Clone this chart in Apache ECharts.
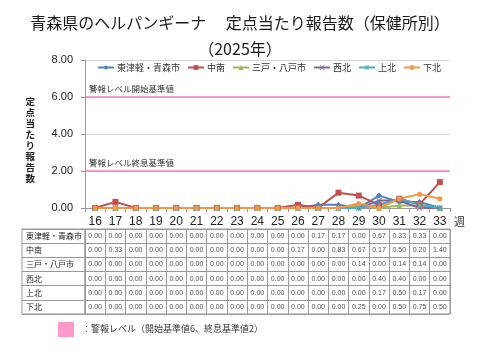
<!DOCTYPE html>
<html><head><meta charset="utf-8">
<script src="https://cdn.jsdelivr.net/npm/echarts@6/dist/echarts.min.js"></script>
<style>html,body{margin:0;padding:0;background:#fff}#c{width:480px;height:360px}</style>
</head><body><div id="c"></div>
<script>
const weeks = ['16','17','18','19','20','21','22','23','24','25','26','27','28','29','30','31','32','33'];
const regions = ['東津軽・青森市','中南','三戸・八戸市','西北','上北','下北'];
const aomori    = [0,0,0,0,0,0,0,0,0,0,0,0.17,0.17,0,0.67,0.33,0.33,0];
const chunan    = [0,0.33,0,0,0,0,0,0,0,0,0.17,0,0.83,0.67,0.17,0.50,0.20,1.40];
const sannohe   = [0,0,0,0,0,0,0,0,0,0,0,0,0,0.14,0,0.14,0.14,0];
const seihoku   = [0,0,0,0,0,0,0,0,0,0,0,0,0,0,0.40,0.40,0,0];
const kamikita  = [0,0,0,0,0,0,0,0,0,0,0,0,0,0,0.17,0.50,0.17,0];
const shimokita = [0,0,0,0,0,0,0,0,0,0,0,0,0,0.25,0,0.50,0.75,0.50];
const yTicks = [0,2,4,6,8];
const alarmStart = 6, alarmEnd = 2;
const seriesValues = [aomori, chunan, sannohe, seihoku, kamikita, shimokita];
const colors = ['#4F81BD','#C0504D','#9BBB59','#8064A2','#4BACC6','#F79646'];
const symbols = ['diamond','rect','triangle',
  'path://M0,1L1,0L5,4L9,0L10,1L6,5L10,9L9,10L5,6L1,10L0,9L4,5Z',
  'path://M0,1L1,0L4.3,3.3L4.3,0L5.7,0L5.7,3.3L9,0L10,1L6,5L10,9L9,10L5.7,6.7L5.7,10L4.3,10L4.3,6.7L1,10L0,9L4,5Z',
  'circle'];
const FONT = "'Liberation Sans','Noto Sans CJK JP',sans-serif";
const CJK = "'Noto Sans CJK JP',sans-serif";

const chart = echarts.init(document.getElementById('c'), null, {renderer:'canvas'});

const lineSeries = seriesValues.map((vals, i) => ({
  name: regions[i], type: 'line', xAxisIndex: 0, yAxisIndex: 0,
  data: vals, symbol: symbols[i], symbolSize: symbols[i]==='circle'?5:6,
  showAllSymbol: true,
  lineStyle: {width: 2, color: colors[i]},
  itemStyle: {color: colors[i]},
  animation: false,
  markLine: i === 0 ? {
    silent: true, symbol: ['none','none'],
    lineStyle: {color: '#F47AC0', width: 1.5, type: 'solid'},
    label: {position: 'insideStartTop', fontSize: 8.5, color: '#333', fontFamily: CJK, distance: [4,4]},
    data: [
      {yAxis: alarmStart, label: {formatter: '警報レベル開始基準値'}},
      {yAxis: alarmEnd, label: {formatter: '警報レベル終息基準値'}}
    ]
  } : undefined
}));

const tableData = [];
seriesValues.forEach((vals, r) => vals.forEach((v, c) => tableData.push([c, r, v])));

chart.setOption({
  animation: false,
  textStyle: {fontFamily: FONT},
  title: {
    text: '青森県のヘルパンギーナ　 定点当たり報告数（保健所別）\n（2025年）',
    left: 'center', top: 5,
    textStyle: {fontFamily: CJK, fontSize: 16, fontWeight: 'normal', color: '#1a1a1a', lineHeight: 26}
  },
  legend: {
    data: regions, left: 97, top: 63, width: 380, itemWidth: 16, itemHeight: 6, itemGap: 7,
    padding: 0,
    textStyle: {fontFamily: CJK, fontSize: 9, color: '#333', padding: [0,0,0,-2]}
  },
  grid: [
    {left: 85, right: 30, top: 60, height: 148, show: false},
    {left: 85, right: 30, top: 229, height: 85, show: true, borderColor: '#999', borderWidth: 1},
    {left: 22, width: 63, top: 229, height: 85, show: true, borderColor: '#999', borderWidth: 1}
  ],
  xAxis: [
    {type: 'category', gridIndex: 0, data: weeks, boundaryGap: true,
     axisLine: {lineStyle: {color: '#999'}},
     axisTick: {show: true, length: 4, lineStyle: {color: '#999'}},
     axisLabel: {fontSize: 12, color: '#222', margin: 8, interval: 0},
     name: '週', nameLocation: 'end', nameGap: 4,
     nameTextStyle: {fontFamily: CJK, fontSize: 11, color: '#333', verticalAlign: 'top', padding: [8,0,0,0]}},
    {type: 'category', gridIndex: 1, data: weeks, boundaryGap: true,
     axisLine: {show: false}, axisTick: {show: false}, axisLabel: {show: false},
     splitLine: {show: true, interval: 0, lineStyle: {color: '#999'}}},
    {type: 'value', gridIndex: 2, show: false, min: 0, max: 1}
  ],
  yAxis: [
    {type: 'value', gridIndex: 0, min: yTicks[0], max: yTicks[yTicks.length-1], interval: yTicks[1]-yTicks[0],
     axisLine: {show: true, lineStyle: {color: '#999'}},
     axisTick: {show: true, length: 4, lineStyle: {color: '#999'}},
     axisLabel: {fontSize: 11, color: '#222', margin: 12, formatter: v => v.toFixed(2)},
     splitLine: {lineStyle: {color: '#d4d4d4'}},
     name: '\n定\n点\n当\nた\nり\n報\n告\n数', nameLocation: 'middle', nameGap: 50, nameRotate: 0,
     nameTextStyle: {fontFamily: CJK, fontSize: 9.5, fontWeight: 'bold', color: '#222', lineHeight: 11}},
    {type: 'category', gridIndex: 1, data: regions, inverse: true,
     axisLine: {show: false}, axisTick: {show: false}, axisLabel: {show: false},
     splitLine: {show: true, interval: 0, lineStyle: {color: '#999'}}},
    {type: 'category', gridIndex: 2, data: regions, inverse: true,
     axisLine: {show: false}, axisTick: {show: false},
     axisLabel: {show: true, inside: true, margin: 4, fontFamily: CJK, fontSize: 8, color: '#222', interval: 0},
     splitLine: {show: true, interval: 0, lineStyle: {color: '#999'}}}
  ],
  series: lineSeries.concat([{
    name: '_table', type: 'scatter', xAxisIndex: 1, yAxisIndex: 1, silent: true,
    data: tableData, symbolSize: 1, itemStyle: {color: 'rgba(0,0,0,0)'},
    label: {show: true, position: 'inside', fontSize: 7, color: '#222', fontFamily: FONT,
            formatter: p => p.value[2].toFixed(2)}
  }]),
  graphic: [
    {type: 'rect', left: 58, top: 322, shape: {width: 16, height: 15}, style: {fill: '#FF99CC'}},
    {type: 'text', left: 82, top: 324, style: {text: '：警報レベル（開始基準値6、終息基準値2）', fontSize: 9, fill: '#333', fontFamily: CJK}}
  ]
});
</script></body></html>
